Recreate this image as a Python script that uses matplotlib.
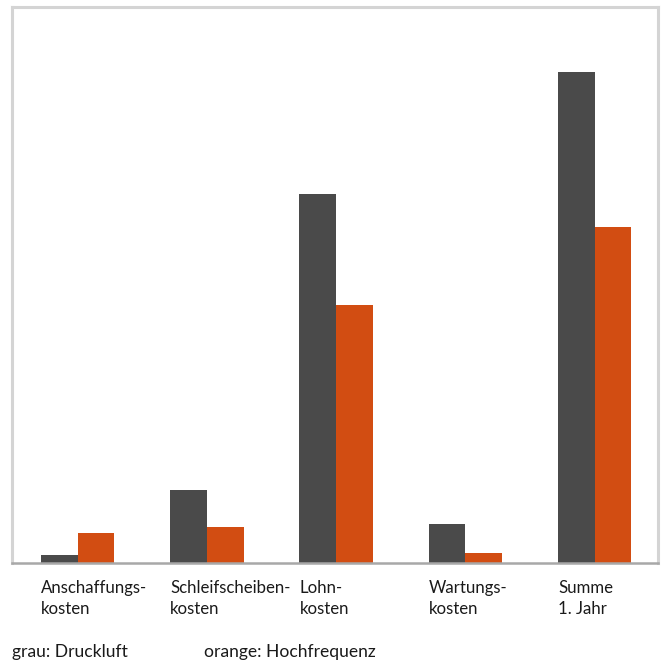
import matplotlib.pyplot as plt
import numpy as np

categories = ["Anschaffungs-\nkosten", "Schleifscheiben-\nkosten", "Lohn-\nkosten",
              "Wartungs-\nkosten", "Summe\n1. Jahr"]
druckluft = [8, 73, 369, 39, 491]
hochfrequenz = [30, 36, 258, 10, 336]

grau = "#4a4a4a"
orange = "#d24d12"

plt.rcParams['font.family'] = ['Lato', 'DejaVu Sans']

fig = plt.figure(figsize=(6.62, 6.64), dpi=100)
W, H = 662, 664
ax = fig.add_axes([11.5 / W, (H - 563) / H, (658 - 11.5) / W, (563 - 7) / H])

x = np.arange(len(categories))
w = 0.284
ax.bar(x - w / 2, druckluft, w, color=grau)
ax.bar(x + w / 2, hochfrequenz, w, color=orange)

ax.set_xlim(-0.512, 4.49)
ax.set_ylim(0, 556)
ax.set_xticks([])
ax.set_yticks([])
for side in ["left", "top", "right"]:
    ax.spines[side].set_color("#d4d4d4")
    ax.spines[side].set_linewidth(2.2)
ax.spines["bottom"].set_color("#a8a8a8")
ax.spines["bottom"].set_linewidth(1.8)

for xi, lab in zip(x, categories):
    ax.text(xi - w, -17, lab, ha="left", va="top", fontsize=12.1,
            color="#1a1a1a", linespacing=1.4)

fig.text(12 / W, 1 - 652 / H, "grau: Druckluft", ha="left", va="center",
         fontsize=12.6, color="#1a1a1a")
fig.text(204 / W, 1 - 652 / H, "orange: Hochfrequenz", ha="left", va="center",
         fontsize=12.6, color="#1a1a1a")

fig.savefig("out.png", dpi=100)
